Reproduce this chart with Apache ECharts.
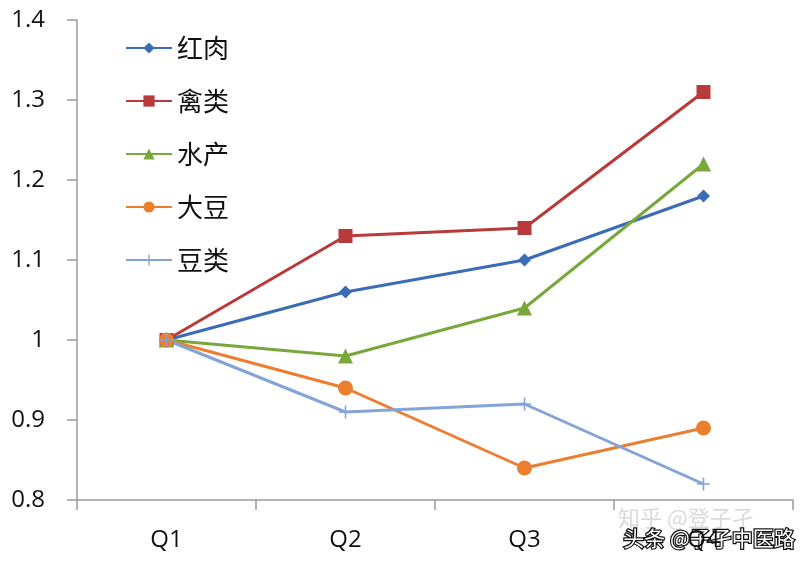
<!DOCTYPE html>
<html><head><meta charset="utf-8">
<script src="https://cdn.jsdelivr.net/npm/echarts@6/dist/echarts.min.js"></script>
<style>html,body{margin:0;padding:0;background:#fff}#c{width:808px;height:564px}</style>
</head><body><div id="c"></div>
<script>
const categories = ['Q1','Q2','Q3','Q4'];
const redMeat = [1, 1.06, 1.10, 1.18];
const poultry = [1, 1.13, 1.14, 1.31];
const aquatic = [1, 0.98, 1.04, 1.22];
const soybean = [1, 0.94, 0.84, 0.89];
const legumes = [1, 0.91, 0.92, 0.82];
const yTicks = [0.8, 0.9, 1, 1.1, 1.2, 1.3, 1.4];

const plus = 'path://M4.4,0 L5.6,0 L5.6,4.4 L10,4.4 L10,5.6 L5.6,5.6 L5.6,10 L4.4,10 L4.4,5.6 L0,5.6 L0,4.4 L4.4,4.4 Z';
function s(name, data, color, symbol, size) {
  return {name, type:'line', data, symbol, symbolSize:size, showSymbol:true,
    lineStyle:{color, width:3}, itemStyle:{color, borderWidth:0}, emphasis:{disabled:true}, z: 2};
}
const chart = echarts.init(document.getElementById('c'));
chart.setOption({
  animation:false,
  backgroundColor:'#fff',
  grid:{left:77, right:15, top:20, bottom:64},
  legend:{orient:'vertical', left:120, top:30, itemGap:27, itemWidth:46, itemHeight:14,
    textStyle:{fontSize:26, color:'#111', fontFamily:'Noto Sans CJK SC', padding:[0,0,0,0]},
    data:['红肉','禽类','水产','大豆','豆类']},
  xAxis:{type:'category', data:categories, boundaryGap:true,
    axisLine:{lineStyle:{color:'#9a9a9a', width:1.5}},
    axisTick:{show:true, length:10, inside:false, lineStyle:{color:'#9a9a9a', width:1.5}},
    axisLabel:{fontSize:24, color:'#111', margin:28, fontFamily:'Open Sans'}},
  yAxis:{type:'value', min:0.8, max:1.4, interval:0.1,
    axisLine:{show:true, lineStyle:{color:'#9a9a9a', width:1.5}},
    axisTick:{show:true, length:10, lineStyle:{color:'#9a9a9a', width:1.5}},
    splitLine:{show:false},
    axisLabel:{fontSize:24, color:'#111', margin:32, fontFamily:'Open Sans',
      formatter: v => { const t = yTicks.find(x => Math.abs(x - v) < 1e-6); return t === undefined ? '' : String(t); }}},
  series:[
    s('红肉', redMeat, '#3a6db5', 'diamond', 13),
    s('禽类', poultry, '#b83a3a', 'rect', 14),
    s('水产', aquatic, '#78a83c', 'triangle', 15),
    s('大豆', soybean, '#ec7e30', 'circle', 15),
    s('豆类', legumes, '#82a4d6', plus, 13)
  ],
  graphic:[
    {type:'text', left:618, top:507, style:{text:'知乎 @登子孑', fontSize:22, fill:'rgba(150,150,150,0.35)', fontFamily:'Noto Sans CJK SC'}},
    {type:'text', left:622, top:526, style:{text:'头条 @子孑中医路', fontSize:21, fill:'#fff', stroke:'#111', lineWidth:2.5, fontFamily:'Noto Sans CJK SC'}}
  ]
});
</script></body></html>
